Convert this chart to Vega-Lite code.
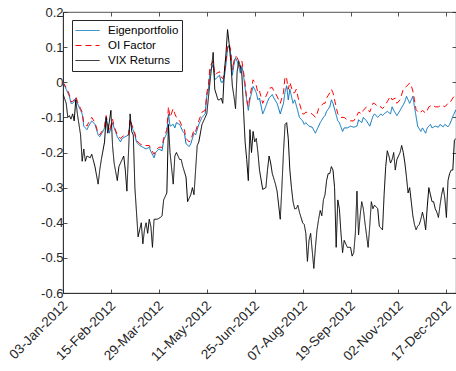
{
"$schema":"https://vega.github.io/schema/vega-lite/v6.json",
"width":393,"height":281,
"autosize":{"type":"none"},
"padding":{"left":63,"top":12,"right":0,"bottom":78},
"background":"white",
"config":{
 "font":"Liberation Sans",
 "view":{"stroke":"#262626","strokeWidth":0.8},
 "axis":{"grid":false,"labelFont":"Liberation Sans","labelFontSize":13,"labelColor":"#262626","domainColor":"#262626","domainWidth":0.8,"tickColor":"#262626","tickWidth":0.8,"tickSize":-4,"title":null,"labelOverlap":false,"labelFlush":false}
},
"data":{"values":[
{"day":1,"series":"Eigenportfolio","value":0.0},{"day":3,"series":"Eigenportfolio","value":-0.02},{"day":5,"series":"Eigenportfolio","value":-0.04},{"day":6,"series":"Eigenportfolio","value":-0.06},{"day":7,"series":"Eigenportfolio","value":-0.06},{"day":8,"series":"Eigenportfolio","value":-0.055},{"day":9,"series":"Eigenportfolio","value":-0.045},{"day":10,"series":"Eigenportfolio","value":-0.06},{"day":12,"series":"Eigenportfolio","value":-0.08},{"day":13,"series":"Eigenportfolio","value":-0.09},{"day":14,"series":"Eigenportfolio","value":-0.125},{"day":16,"series":"Eigenportfolio","value":-0.135},{"day":17,"series":"Eigenportfolio","value":-0.125},{"day":19,"series":"Eigenportfolio","value":-0.11},{"day":21,"series":"Eigenportfolio","value":-0.12},{"day":23,"series":"Eigenportfolio","value":-0.15},{"day":24,"series":"Eigenportfolio","value":-0.155},{"day":26,"series":"Eigenportfolio","value":-0.14},{"day":27,"series":"Eigenportfolio","value":-0.13},{"day":28,"series":"Eigenportfolio","value":-0.1},{"day":30,"series":"Eigenportfolio","value":-0.145},{"day":32,"series":"Eigenportfolio","value":-0.115},{"day":33,"series":"Eigenportfolio","value":-0.13},{"day":35,"series":"Eigenportfolio","value":-0.155},{"day":37,"series":"Eigenportfolio","value":-0.17},{"day":38,"series":"Eigenportfolio","value":-0.16},{"day":40,"series":"Eigenportfolio","value":-0.155},{"day":42,"series":"Eigenportfolio","value":-0.15},{"day":43,"series":"Eigenportfolio","value":-0.11},{"day":44,"series":"Eigenportfolio","value":-0.125},{"day":46,"series":"Eigenportfolio","value":-0.15},{"day":47,"series":"Eigenportfolio","value":-0.17},{"day":49,"series":"Eigenportfolio","value":-0.18},{"day":51,"series":"Eigenportfolio","value":-0.185},{"day":53,"series":"Eigenportfolio","value":-0.19},{"day":55,"series":"Eigenportfolio","value":-0.185},{"day":56,"series":"Eigenportfolio","value":-0.197},{"day":58,"series":"Eigenportfolio","value":-0.215},{"day":59,"series":"Eigenportfolio","value":-0.2},{"day":61,"series":"Eigenportfolio","value":-0.19},{"day":63,"series":"Eigenportfolio","value":-0.195},{"day":64,"series":"Eigenportfolio","value":-0.165},{"day":66,"series":"Eigenportfolio","value":-0.145},{"day":67,"series":"Eigenportfolio","value":-0.09},{"day":68,"series":"Eigenportfolio","value":-0.125},{"day":70,"series":"Eigenportfolio","value":-0.12},{"day":71,"series":"Eigenportfolio","value":-0.13},{"day":72,"series":"Eigenportfolio","value":-0.115},{"day":74,"series":"Eigenportfolio","value":-0.12},{"day":76,"series":"Eigenportfolio","value":-0.14},{"day":77,"series":"Eigenportfolio","value":-0.145},{"day":78,"series":"Eigenportfolio","value":-0.175},{"day":80,"series":"Eigenportfolio","value":-0.183},{"day":81,"series":"Eigenportfolio","value":-0.175},{"day":83,"series":"Eigenportfolio","value":-0.145},{"day":84,"series":"Eigenportfolio","value":-0.15},{"day":86,"series":"Eigenportfolio","value":-0.12},{"day":88,"series":"Eigenportfolio","value":-0.1},{"day":90,"series":"Eigenportfolio","value":-0.09},{"day":91,"series":"Eigenportfolio","value":-0.04},{"day":92,"series":"Eigenportfolio","value":-0.02},{"day":93,"series":"Eigenportfolio","value":0.03},{"day":95,"series":"Eigenportfolio","value":0.05},{"day":96,"series":"Eigenportfolio","value":0.007},{"day":97,"series":"Eigenportfolio","value":0.012},{"day":99,"series":"Eigenportfolio","value":0.02},{"day":100,"series":"Eigenportfolio","value":0.0},{"day":101,"series":"Eigenportfolio","value":0.0},{"day":102,"series":"Eigenportfolio","value":0.015},{"day":103,"series":"Eigenportfolio","value":0.05},{"day":104,"series":"Eigenportfolio","value":0.095},{"day":105,"series":"Eigenportfolio","value":0.105},{"day":106,"series":"Eigenportfolio","value":0.08},{"day":107,"series":"Eigenportfolio","value":0.02},{"day":108,"series":"Eigenportfolio","value":0.05},{"day":109,"series":"Eigenportfolio","value":0.07},{"day":110,"series":"Eigenportfolio","value":0.06},{"day":111,"series":"Eigenportfolio","value":0.045},{"day":112,"series":"Eigenportfolio","value":0.026},{"day":113,"series":"Eigenportfolio","value":0.045},{"day":114,"series":"Eigenportfolio","value":0.02},{"day":115,"series":"Eigenportfolio","value":-0.017},{"day":116,"series":"Eigenportfolio","value":-0.05},{"day":117,"series":"Eigenportfolio","value":-0.08},{"day":118,"series":"Eigenportfolio","value":-0.05},{"day":120,"series":"Eigenportfolio","value":-0.012},{"day":121,"series":"Eigenportfolio","value":-0.02},{"day":122,"series":"Eigenportfolio","value":-0.03},{"day":123,"series":"Eigenportfolio","value":-0.05},{"day":124,"series":"Eigenportfolio","value":-0.045},{"day":126,"series":"Eigenportfolio","value":-0.09},{"day":127,"series":"Eigenportfolio","value":-0.08},{"day":129,"series":"Eigenportfolio","value":-0.055},{"day":130,"series":"Eigenportfolio","value":-0.045},{"day":132,"series":"Eigenportfolio","value":-0.035},{"day":133,"series":"Eigenportfolio","value":-0.045},{"day":135,"series":"Eigenportfolio","value":-0.06},{"day":137,"series":"Eigenportfolio","value":-0.09},{"day":139,"series":"Eigenportfolio","value":-0.06},{"day":140,"series":"Eigenportfolio","value":-0.027},{"day":141,"series":"Eigenportfolio","value":-0.01},{"day":142,"series":"Eigenportfolio","value":-0.05},{"day":143,"series":"Eigenportfolio","value":-0.02},{"day":145,"series":"Eigenportfolio","value":-0.06},{"day":146,"series":"Eigenportfolio","value":-0.05},{"day":147,"series":"Eigenportfolio","value":-0.065},{"day":149,"series":"Eigenportfolio","value":-0.1},{"day":151,"series":"Eigenportfolio","value":-0.11},{"day":152,"series":"Eigenportfolio","value":-0.12},{"day":153,"series":"Eigenportfolio","value":-0.115},{"day":155,"series":"Eigenportfolio","value":-0.125},{"day":157,"series":"Eigenportfolio","value":-0.128},{"day":159,"series":"Eigenportfolio","value":-0.145},{"day":160,"series":"Eigenportfolio","value":-0.135},{"day":162,"series":"Eigenportfolio","value":-0.115},{"day":164,"series":"Eigenportfolio","value":-0.1},{"day":165,"series":"Eigenportfolio","value":-0.095},{"day":166,"series":"Eigenportfolio","value":-0.083},{"day":168,"series":"Eigenportfolio","value":-0.07},{"day":169,"series":"Eigenportfolio","value":-0.05},{"day":170,"series":"Eigenportfolio","value":-0.06},{"day":172,"series":"Eigenportfolio","value":-0.093},{"day":173,"series":"Eigenportfolio","value":-0.11},{"day":174,"series":"Eigenportfolio","value":-0.115},{"day":176,"series":"Eigenportfolio","value":-0.14},{"day":177,"series":"Eigenportfolio","value":-0.13},{"day":179,"series":"Eigenportfolio","value":-0.13},{"day":181,"series":"Eigenportfolio","value":-0.125},{"day":183,"series":"Eigenportfolio","value":-0.128},{"day":185,"series":"Eigenportfolio","value":-0.125},{"day":186,"series":"Eigenportfolio","value":-0.107},{"day":188,"series":"Eigenportfolio","value":-0.115},{"day":189,"series":"Eigenportfolio","value":-0.1},{"day":191,"series":"Eigenportfolio","value":-0.11},{"day":193,"series":"Eigenportfolio","value":-0.125},{"day":195,"series":"Eigenportfolio","value":-0.097},{"day":196,"series":"Eigenportfolio","value":-0.09},{"day":198,"series":"Eigenportfolio","value":-0.1},{"day":200,"series":"Eigenportfolio","value":-0.09},{"day":201,"series":"Eigenportfolio","value":-0.095},{"day":202,"series":"Eigenportfolio","value":-0.09},{"day":204,"series":"Eigenportfolio","value":-0.083},{"day":206,"series":"Eigenportfolio","value":-0.09},{"day":207,"series":"Eigenportfolio","value":-0.07},{"day":208,"series":"Eigenportfolio","value":-0.08},{"day":210,"series":"Eigenportfolio","value":-0.095},{"day":212,"series":"Eigenportfolio","value":-0.08},{"day":214,"series":"Eigenportfolio","value":-0.064},{"day":215,"series":"Eigenportfolio","value":-0.055},{"day":216,"series":"Eigenportfolio","value":-0.04},{"day":218,"series":"Eigenportfolio","value":-0.06},{"day":220,"series":"Eigenportfolio","value":-0.04},{"day":221,"series":"Eigenportfolio","value":-0.07},{"day":222,"series":"Eigenportfolio","value":-0.097},{"day":223,"series":"Eigenportfolio","value":-0.125},{"day":225,"series":"Eigenportfolio","value":-0.14},{"day":226,"series":"Eigenportfolio","value":-0.13},{"day":228,"series":"Eigenportfolio","value":-0.145},{"day":229,"series":"Eigenportfolio","value":-0.13},{"day":231,"series":"Eigenportfolio","value":-0.12},{"day":232,"series":"Eigenportfolio","value":-0.13},{"day":234,"series":"Eigenportfolio","value":-0.125},{"day":236,"series":"Eigenportfolio","value":-0.128},{"day":237,"series":"Eigenportfolio","value":-0.12},{"day":239,"series":"Eigenportfolio","value":-0.127},{"day":240,"series":"Eigenportfolio","value":-0.12},{"day":242,"series":"Eigenportfolio","value":-0.127},{"day":243,"series":"Eigenportfolio","value":-0.12},{"day":244,"series":"Eigenportfolio","value":-0.11},{"day":245,"series":"Eigenportfolio","value":-0.097},{"day":247,"series":"Eigenportfolio","value":-0.078},
{"day":1,"series":"OI Factor","value":0.0},{"day":3,"series":"OI Factor","value":-0.015},{"day":5,"series":"OI Factor","value":-0.035},{"day":6,"series":"OI Factor","value":-0.055},{"day":7,"series":"OI Factor","value":-0.055},{"day":8,"series":"OI Factor","value":-0.05},{"day":9,"series":"OI Factor","value":-0.04},{"day":10,"series":"OI Factor","value":-0.055},{"day":12,"series":"OI Factor","value":-0.075},{"day":13,"series":"OI Factor","value":-0.085},{"day":14,"series":"OI Factor","value":-0.115},{"day":16,"series":"OI Factor","value":-0.125},{"day":17,"series":"OI Factor","value":-0.115},{"day":19,"series":"OI Factor","value":-0.1},{"day":21,"series":"OI Factor","value":-0.115},{"day":23,"series":"OI Factor","value":-0.145},{"day":24,"series":"OI Factor","value":-0.15},{"day":26,"series":"OI Factor","value":-0.135},{"day":27,"series":"OI Factor","value":-0.125},{"day":28,"series":"OI Factor","value":-0.095},{"day":30,"series":"OI Factor","value":-0.14},{"day":32,"series":"OI Factor","value":-0.105},{"day":33,"series":"OI Factor","value":-0.125},{"day":35,"series":"OI Factor","value":-0.15},{"day":37,"series":"OI Factor","value":-0.16},{"day":38,"series":"OI Factor","value":-0.155},{"day":40,"series":"OI Factor","value":-0.15},{"day":42,"series":"OI Factor","value":-0.15},{"day":43,"series":"OI Factor","value":-0.105},{"day":44,"series":"OI Factor","value":-0.12},{"day":46,"series":"OI Factor","value":-0.145},{"day":47,"series":"OI Factor","value":-0.165},{"day":49,"series":"OI Factor","value":-0.175},{"day":51,"series":"OI Factor","value":-0.18},{"day":53,"series":"OI Factor","value":-0.18},{"day":55,"series":"OI Factor","value":-0.18},{"day":56,"series":"OI Factor","value":-0.19},{"day":58,"series":"OI Factor","value":-0.205},{"day":59,"series":"OI Factor","value":-0.195},{"day":61,"series":"OI Factor","value":-0.185},{"day":63,"series":"OI Factor","value":-0.185},{"day":64,"series":"OI Factor","value":-0.16},{"day":66,"series":"OI Factor","value":-0.135},{"day":67,"series":"OI Factor","value":-0.07},{"day":68,"series":"OI Factor","value":-0.1},{"day":70,"series":"OI Factor","value":-0.075},{"day":71,"series":"OI Factor","value":-0.09},{"day":72,"series":"OI Factor","value":-0.1},{"day":74,"series":"OI Factor","value":-0.11},{"day":76,"series":"OI Factor","value":-0.13},{"day":77,"series":"OI Factor","value":-0.135},{"day":78,"series":"OI Factor","value":-0.16},{"day":80,"series":"OI Factor","value":-0.17},{"day":81,"series":"OI Factor","value":-0.165},{"day":83,"series":"OI Factor","value":-0.135},{"day":84,"series":"OI Factor","value":-0.14},{"day":86,"series":"OI Factor","value":-0.11},{"day":88,"series":"OI Factor","value":-0.085},{"day":90,"series":"OI Factor","value":-0.08},{"day":91,"series":"OI Factor","value":-0.03},{"day":92,"series":"OI Factor","value":-0.01},{"day":93,"series":"OI Factor","value":0.045},{"day":95,"series":"OI Factor","value":0.06},{"day":96,"series":"OI Factor","value":0.02},{"day":97,"series":"OI Factor","value":0.025},{"day":99,"series":"OI Factor","value":0.03},{"day":100,"series":"OI Factor","value":0.015},{"day":101,"series":"OI Factor","value":0.01},{"day":102,"series":"OI Factor","value":0.025},{"day":103,"series":"OI Factor","value":0.06},{"day":104,"series":"OI Factor","value":0.1},{"day":105,"series":"OI Factor","value":0.11},{"day":106,"series":"OI Factor","value":0.09},{"day":107,"series":"OI Factor","value":0.035},{"day":108,"series":"OI Factor","value":0.06},{"day":109,"series":"OI Factor","value":0.075},{"day":110,"series":"OI Factor","value":0.07},{"day":111,"series":"OI Factor","value":0.06},{"day":112,"series":"OI Factor","value":0.04},{"day":113,"series":"OI Factor","value":0.06},{"day":114,"series":"OI Factor","value":0.03},{"day":115,"series":"OI Factor","value":-0.005},{"day":116,"series":"OI Factor","value":-0.05},{"day":117,"series":"OI Factor","value":-0.07},{"day":118,"series":"OI Factor","value":-0.04},{"day":120,"series":"OI Factor","value":0.007},{"day":121,"series":"OI Factor","value":0.0},{"day":122,"series":"OI Factor","value":-0.01},{"day":123,"series":"OI Factor","value":-0.03},{"day":124,"series":"OI Factor","value":-0.025},{"day":126,"series":"OI Factor","value":-0.06},{"day":127,"series":"OI Factor","value":-0.05},{"day":129,"series":"OI Factor","value":-0.03},{"day":130,"series":"OI Factor","value":-0.017},{"day":132,"series":"OI Factor","value":-0.015},{"day":133,"series":"OI Factor","value":-0.025},{"day":135,"series":"OI Factor","value":-0.04},{"day":137,"series":"OI Factor","value":-0.06},{"day":139,"series":"OI Factor","value":-0.03},{"day":140,"series":"OI Factor","value":0.017},{"day":141,"series":"OI Factor","value":0.01},{"day":142,"series":"OI Factor","value":-0.02},{"day":143,"series":"OI Factor","value":0.0},{"day":145,"series":"OI Factor","value":-0.03},{"day":146,"series":"OI Factor","value":-0.03},{"day":147,"series":"OI Factor","value":-0.02},{"day":149,"series":"OI Factor","value":-0.06},{"day":151,"series":"OI Factor","value":-0.09},{"day":152,"series":"OI Factor","value":-0.09},{"day":153,"series":"OI Factor","value":-0.085},{"day":155,"series":"OI Factor","value":-0.088},{"day":157,"series":"OI Factor","value":-0.09},{"day":159,"series":"OI Factor","value":-0.1},{"day":160,"series":"OI Factor","value":-0.09},{"day":161,"series":"OI Factor","value":-0.075},{"day":162,"series":"OI Factor","value":-0.07},{"day":164,"series":"OI Factor","value":-0.06},{"day":165,"series":"OI Factor","value":-0.06},{"day":166,"series":"OI Factor","value":-0.045},{"day":168,"series":"OI Factor","value":-0.03},{"day":169,"series":"OI Factor","value":-0.02},{"day":170,"series":"OI Factor","value":-0.03},{"day":172,"series":"OI Factor","value":-0.07},{"day":173,"series":"OI Factor","value":-0.09},{"day":174,"series":"OI Factor","value":-0.095},{"day":175,"series":"OI Factor","value":-0.1},{"day":177,"series":"OI Factor","value":-0.1},{"day":179,"series":"OI Factor","value":-0.107},{"day":181,"series":"OI Factor","value":-0.11},{"day":183,"series":"OI Factor","value":-0.11},{"day":185,"series":"OI Factor","value":-0.095},{"day":186,"series":"OI Factor","value":-0.085},{"day":188,"series":"OI Factor","value":-0.09},{"day":189,"series":"OI Factor","value":-0.08},{"day":191,"series":"OI Factor","value":-0.07},{"day":193,"series":"OI Factor","value":-0.085},{"day":195,"series":"OI Factor","value":-0.06},{"day":196,"series":"OI Factor","value":-0.06},{"day":198,"series":"OI Factor","value":-0.07},{"day":200,"series":"OI Factor","value":-0.07},{"day":201,"series":"OI Factor","value":-0.075},{"day":202,"series":"OI Factor","value":-0.07},{"day":204,"series":"OI Factor","value":-0.055},{"day":206,"series":"OI Factor","value":-0.04},{"day":207,"series":"OI Factor","value":-0.05},{"day":209,"series":"OI Factor","value":-0.045},{"day":210,"series":"OI Factor","value":-0.06},{"day":212,"series":"OI Factor","value":-0.05},{"day":214,"series":"OI Factor","value":-0.02},{"day":215,"series":"OI Factor","value":-0.015},{"day":216,"series":"OI Factor","value":-0.012},{"day":218,"series":"OI Factor","value":-0.002},{"day":219,"series":"OI Factor","value":-0.01},{"day":220,"series":"OI Factor","value":-0.025},{"day":221,"series":"OI Factor","value":-0.05},{"day":222,"series":"OI Factor","value":-0.078},{"day":224,"series":"OI Factor","value":-0.088},{"day":225,"series":"OI Factor","value":-0.085},{"day":226,"series":"OI Factor","value":-0.08},{"day":228,"series":"OI Factor","value":-0.088},{"day":229,"series":"OI Factor","value":-0.08},{"day":230,"series":"OI Factor","value":-0.07},{"day":232,"series":"OI Factor","value":-0.065},{"day":234,"series":"OI Factor","value":-0.07},{"day":236,"series":"OI Factor","value":-0.07},{"day":238,"series":"OI Factor","value":-0.065},{"day":240,"series":"OI Factor","value":-0.07},{"day":242,"series":"OI Factor","value":-0.06},{"day":243,"series":"OI Factor","value":-0.06},{"day":245,"series":"OI Factor","value":-0.045},{"day":247,"series":"OI Factor","value":-0.035},
{"day":1,"series":"VIX Returns","value":-0.033},{"day":3,"series":"VIX Returns","value":-0.06},{"day":4,"series":"VIX Returns","value":-0.1},{"day":5,"series":"VIX Returns","value":-0.095},{"day":6,"series":"VIX Returns","value":-0.105},{"day":7,"series":"VIX Returns","value":-0.09},{"day":8,"series":"VIX Returns","value":-0.11},{"day":9,"series":"VIX Returns","value":-0.05},{"day":10,"series":"VIX Returns","value":-0.09},{"day":12,"series":"VIX Returns","value":-0.15},{"day":13,"series":"VIX Returns","value":-0.225},{"day":14,"series":"VIX Returns","value":-0.19},{"day":15,"series":"VIX Returns","value":-0.225},{"day":16,"series":"VIX Returns","value":-0.21},{"day":18,"series":"VIX Returns","value":-0.215},{"day":19,"series":"VIX Returns","value":-0.205},{"day":21,"series":"VIX Returns","value":-0.24},{"day":23,"series":"VIX Returns","value":-0.29},{"day":24,"series":"VIX Returns","value":-0.25},{"day":25,"series":"VIX Returns","value":-0.22},{"day":27,"series":"VIX Returns","value":-0.17},{"day":28,"series":"VIX Returns","value":-0.1},{"day":29,"series":"VIX Returns","value":-0.145},{"day":31,"series":"VIX Returns","value":-0.08},{"day":32,"series":"VIX Returns","value":-0.18},{"day":33,"series":"VIX Returns","value":-0.23},{"day":35,"series":"VIX Returns","value":-0.28},{"day":36,"series":"VIX Returns","value":-0.24},{"day":38,"series":"VIX Returns","value":-0.22},{"day":39,"series":"VIX Returns","value":-0.21},{"day":40,"series":"VIX Returns","value":-0.25},{"day":41,"series":"VIX Returns","value":-0.31},{"day":43,"series":"VIX Returns","value":-0.09},{"day":44,"series":"VIX Returns","value":-0.14},{"day":45,"series":"VIX Returns","value":-0.15},{"day":46,"series":"VIX Returns","value":-0.3},{"day":48,"series":"VIX Returns","value":-0.44},{"day":49,"series":"VIX Returns","value":-0.42},{"day":50,"series":"VIX Returns","value":-0.4},{"day":51,"series":"VIX Returns","value":-0.46},{"day":52,"series":"VIX Returns","value":-0.42},{"day":53,"series":"VIX Returns","value":-0.4},{"day":54,"series":"VIX Returns","value":-0.43},{"day":55,"series":"VIX Returns","value":-0.39},{"day":56,"series":"VIX Returns","value":-0.41},{"day":57,"series":"VIX Returns","value":-0.47},{"day":58,"series":"VIX Returns","value":-0.39},{"day":60,"series":"VIX Returns","value":-0.39},{"day":62,"series":"VIX Returns","value":-0.385},{"day":63,"series":"VIX Returns","value":-0.38},{"day":64,"series":"VIX Returns","value":-0.335},{"day":66,"series":"VIX Returns","value":-0.315},{"day":67,"series":"VIX Returns","value":-0.12},{"day":68,"series":"VIX Returns","value":-0.2},{"day":70,"series":"VIX Returns","value":-0.29},{"day":71,"series":"VIX Returns","value":-0.21},{"day":72,"series":"VIX Returns","value":-0.2},{"day":74,"series":"VIX Returns","value":-0.22},{"day":75,"series":"VIX Returns","value":-0.22},{"day":76,"series":"VIX Returns","value":-0.24},{"day":78,"series":"VIX Returns","value":-0.27},{"day":79,"series":"VIX Returns","value":-0.34},{"day":80,"series":"VIX Returns","value":-0.33},{"day":81,"series":"VIX Returns","value":-0.32},{"day":82,"series":"VIX Returns","value":-0.3},{"day":83,"series":"VIX Returns","value":-0.32},{"day":84,"series":"VIX Returns","value":-0.25},{"day":85,"series":"VIX Returns","value":-0.18},{"day":86,"series":"VIX Returns","value":-0.17},{"day":88,"series":"VIX Returns","value":-0.12},{"day":90,"series":"VIX Returns","value":-0.1},{"day":91,"series":"VIX Returns","value":-0.09},{"day":93,"series":"VIX Returns","value":0.0},{"day":95,"series":"VIX Returns","value":0.085},{"day":96,"series":"VIX Returns","value":-0.02},{"day":98,"series":"VIX Returns","value":-0.05},{"day":99,"series":"VIX Returns","value":-0.05},{"day":100,"series":"VIX Returns","value":-0.045},{"day":101,"series":"VIX Returns","value":-0.06},{"day":102,"series":"VIX Returns","value":0.03},{"day":103,"series":"VIX Returns","value":0.08},{"day":104,"series":"VIX Returns","value":0.15},{"day":105,"series":"VIX Returns","value":0.11},{"day":106,"series":"VIX Returns","value":0.06},{"day":107,"series":"VIX Returns","value":-0.01},{"day":108,"series":"VIX Returns","value":-0.04},{"day":109,"series":"VIX Returns","value":-0.075},{"day":110,"series":"VIX Returns","value":0.03},{"day":111,"series":"VIX Returns","value":0.06},{"day":112,"series":"VIX Returns","value":0.045},{"day":113,"series":"VIX Returns","value":0.02},{"day":114,"series":"VIX Returns","value":-0.08},{"day":115,"series":"VIX Returns","value":-0.17},{"day":116,"series":"VIX Returns","value":-0.22},{"day":117,"series":"VIX Returns","value":-0.28},{"day":118,"series":"VIX Returns","value":-0.135},{"day":119,"series":"VIX Returns","value":-0.2},{"day":120,"series":"VIX Returns","value":-0.14},{"day":121,"series":"VIX Returns","value":-0.17},{"day":122,"series":"VIX Returns","value":-0.16},{"day":123,"series":"VIX Returns","value":-0.2},{"day":124,"series":"VIX Returns","value":-0.25},{"day":126,"series":"VIX Returns","value":-0.305},{"day":128,"series":"VIX Returns","value":-0.3},{"day":129,"series":"VIX Returns","value":-0.25},{"day":130,"series":"VIX Returns","value":-0.21},{"day":131,"series":"VIX Returns","value":-0.23},{"day":132,"series":"VIX Returns","value":-0.26},{"day":134,"series":"VIX Returns","value":-0.29},{"day":135,"series":"VIX Returns","value":-0.31},{"day":136,"series":"VIX Returns","value":-0.35},{"day":137,"series":"VIX Returns","value":-0.39},{"day":138,"series":"VIX Returns","value":-0.3},{"day":139,"series":"VIX Returns","value":-0.2},{"day":140,"series":"VIX Returns","value":-0.12},{"day":141,"series":"VIX Returns","value":-0.115},{"day":142,"series":"VIX Returns","value":-0.16},{"day":143,"series":"VIX Returns","value":-0.25},{"day":144,"series":"VIX Returns","value":-0.3},{"day":145,"series":"VIX Returns","value":-0.34},{"day":146,"series":"VIX Returns","value":-0.36},{"day":147,"series":"VIX Returns","value":-0.36},{"day":148,"series":"VIX Returns","value":-0.35},{"day":149,"series":"VIX Returns","value":-0.37},{"day":151,"series":"VIX Returns","value":-0.4},{"day":152,"series":"VIX Returns","value":-0.405},{"day":153,"series":"VIX Returns","value":-0.43},{"day":154,"series":"VIX Returns","value":-0.51},{"day":155,"series":"VIX Returns","value":-0.45},{"day":156,"series":"VIX Returns","value":-0.43},{"day":157,"series":"VIX Returns","value":-0.48},{"day":158,"series":"VIX Returns","value":-0.53},{"day":159,"series":"VIX Returns","value":-0.47},{"day":160,"series":"VIX Returns","value":-0.42},{"day":161,"series":"VIX Returns","value":-0.39},{"day":162,"series":"VIX Returns","value":-0.365},{"day":163,"series":"VIX Returns","value":-0.38},{"day":164,"series":"VIX Returns","value":-0.335},{"day":165,"series":"VIX Returns","value":-0.32},{"day":166,"series":"VIX Returns","value":-0.28},{"day":167,"series":"VIX Returns","value":-0.26},{"day":168,"series":"VIX Returns","value":-0.26},{"day":169,"series":"VIX Returns","value":-0.24},{"day":170,"series":"VIX Returns","value":-0.25},{"day":171,"series":"VIX Returns","value":-0.3},{"day":172,"series":"VIX Returns","value":-0.47},{"day":173,"series":"VIX Returns","value":-0.335},{"day":174,"series":"VIX Returns","value":-0.36},{"day":175,"series":"VIX Returns","value":-0.43},{"day":176,"series":"VIX Returns","value":-0.485},{"day":177,"series":"VIX Returns","value":-0.45},{"day":178,"series":"VIX Returns","value":-0.46},{"day":179,"series":"VIX Returns","value":-0.47},{"day":181,"series":"VIX Returns","value":-0.47},{"day":182,"series":"VIX Returns","value":-0.495},{"day":183,"series":"VIX Returns","value":-0.485},{"day":184,"series":"VIX Returns","value":-0.43},{"day":185,"series":"VIX Returns","value":-0.31},{"day":186,"series":"VIX Returns","value":-0.435},{"day":187,"series":"VIX Returns","value":-0.38},{"day":188,"series":"VIX Returns","value":-0.34},{"day":189,"series":"VIX Returns","value":-0.36},{"day":190,"series":"VIX Returns","value":-0.4},{"day":192,"series":"VIX Returns","value":-0.47},{"day":193,"series":"VIX Returns","value":-0.41},{"day":194,"series":"VIX Returns","value":-0.34},{"day":195,"series":"VIX Returns","value":-0.36},{"day":196,"series":"VIX Returns","value":-0.35},{"day":198,"series":"VIX Returns","value":-0.36},{"day":199,"series":"VIX Returns","value":-0.41},{"day":200,"series":"VIX Returns","value":-0.415},{"day":201,"series":"VIX Returns","value":-0.42},{"day":202,"series":"VIX Returns","value":-0.32},{"day":203,"series":"VIX Returns","value":-0.24},{"day":204,"series":"VIX Returns","value":-0.195},{"day":205,"series":"VIX Returns","value":-0.21},{"day":206,"series":"VIX Returns","value":-0.23},{"day":207,"series":"VIX Returns","value":-0.22},{"day":208,"series":"VIX Returns","value":-0.2},{"day":209,"series":"VIX Returns","value":-0.25},{"day":210,"series":"VIX Returns","value":-0.22},{"day":212,"series":"VIX Returns","value":-0.2},{"day":213,"series":"VIX Returns","value":-0.18},{"day":214,"series":"VIX Returns","value":-0.2},{"day":215,"series":"VIX Returns","value":-0.23},{"day":216,"series":"VIX Returns","value":-0.27},{"day":217,"series":"VIX Returns","value":-0.315},{"day":218,"series":"VIX Returns","value":-0.3},{"day":219,"series":"VIX Returns","value":-0.34},{"day":220,"series":"VIX Returns","value":-0.38},{"day":221,"series":"VIX Returns","value":-0.405},{"day":222,"series":"VIX Returns","value":-0.42},{"day":223,"series":"VIX Returns","value":-0.41},{"day":224,"series":"VIX Returns","value":-0.405},{"day":225,"series":"VIX Returns","value":-0.39},{"day":226,"series":"VIX Returns","value":-0.37},{"day":227,"series":"VIX Returns","value":-0.39},{"day":228,"series":"VIX Returns","value":-0.42},{"day":229,"series":"VIX Returns","value":-0.355},{"day":230,"series":"VIX Returns","value":-0.3},{"day":231,"series":"VIX Returns","value":-0.32},{"day":232,"series":"VIX Returns","value":-0.34},{"day":233,"series":"VIX Returns","value":-0.34},{"day":234,"series":"VIX Returns","value":-0.36},{"day":235,"series":"VIX Returns","value":-0.37},{"day":236,"series":"VIX Returns","value":-0.385},{"day":237,"series":"VIX Returns","value":-0.35},{"day":238,"series":"VIX Returns","value":-0.32},{"day":239,"series":"VIX Returns","value":-0.3},{"day":240,"series":"VIX Returns","value":-0.33},{"day":241,"series":"VIX Returns","value":-0.385},{"day":242,"series":"VIX Returns","value":-0.28},{"day":243,"series":"VIX Returns","value":-0.26},{"day":244,"series":"VIX Returns","value":-0.25},{"day":245,"series":"VIX Returns","value":-0.25},{"day":246,"series":"VIX Returns","value":-0.165},{"day":247,"series":"VIX Returns","value":-0.16}
]},
"layer":[
 {"mark":{"type":"line","strokeWidth":1,"clip":true},
  "encoding":{
   "x":{"field":"day","type":"quantitative","scale":{"domain":[1,247],"nice":false,"zero":false},
        "axis":{"orient":"bottom","values":[1,31,61,91,121,151,181,211,241],"labelAngle":-45,"labelAlign":"right","labelBaseline":"middle","labelPadding":14,"labelOffset":2,"labelFontSize":13.5,
        "labelExpr":"['03-Jan-2012','15-Feb-2012','29-Mar-2012','11-May-2012','25-Jun-2012','07-Aug-2012','19-Sep-2012','02-Nov-2012','17-Dec-2012'][round((datum.value-1)/30)]"}},
   "y":{"field":"value","type":"quantitative","scale":{"domain":[-0.6,0.2],"nice":false,"zero":false},
        "axis":{"orient":"left","values":[-0.6,-0.5,-0.4,-0.3,-0.2,-0.1,0,0.1,0.2],"labelPadding":4,
        "labelExpr":"abs(datum.value) < 1e-9 ? '0' : replace(format(datum.value, '.1f'), '\u2212', '-')"}},
   "color":{"field":"series","type":"nominal","scale":{"domain":["Eigenportfolio","OI Factor","VIX Returns"],"range":["#0072BD","#FF0000","#000000"]},
        "legend":{"title":null,"orient":"none","legendX":9,"legendY":8,"symbolType":"stroke","symbolSize":576,"symbolStrokeWidth":1,"labelFont":"Liberation Sans","labelFontSize":11.5,"labelColor":"#000000","labelOffset":8,"strokeColor":"#262626","fillColor":"white","padding":3,"rowPadding":0,"clipHeight":15,"cornerRadius":0}},
   "strokeDash":{"field":"series","type":"nominal","scale":{"domain":["Eigenportfolio","OI Factor","VIX Returns"],"range":[[1,0],[6,4],[1,0]]},
        "legend":{"title":null,"orient":"none","legendX":9,"legendY":8,"symbolType":"stroke","symbolSize":576,"symbolStrokeWidth":1,"labelFont":"Liberation Sans","labelFontSize":11.5,"labelColor":"#000000","labelOffset":8,"strokeColor":"#262626","fillColor":"white","padding":3,"rowPadding":0,"clipHeight":15,"cornerRadius":0}}
  }},
 {"mark":{"type":"point","opacity":0},
  "encoding":{
   "x":{"field":"day","type":"quantitative","axis":{"orient":"top","values":[1,31,61,91,121,151,181,211,241],"labels":false,"domain":false}},
   "y":{"field":"value","type":"quantitative","axis":{"orient":"right","values":[-0.6,-0.5,-0.4,-0.3,-0.2,-0.1,0,0.1,0.2],"labels":false,"domain":false}}
  }}
],
"resolve":{"axis":{"x":"independent","y":"independent"}}
}
